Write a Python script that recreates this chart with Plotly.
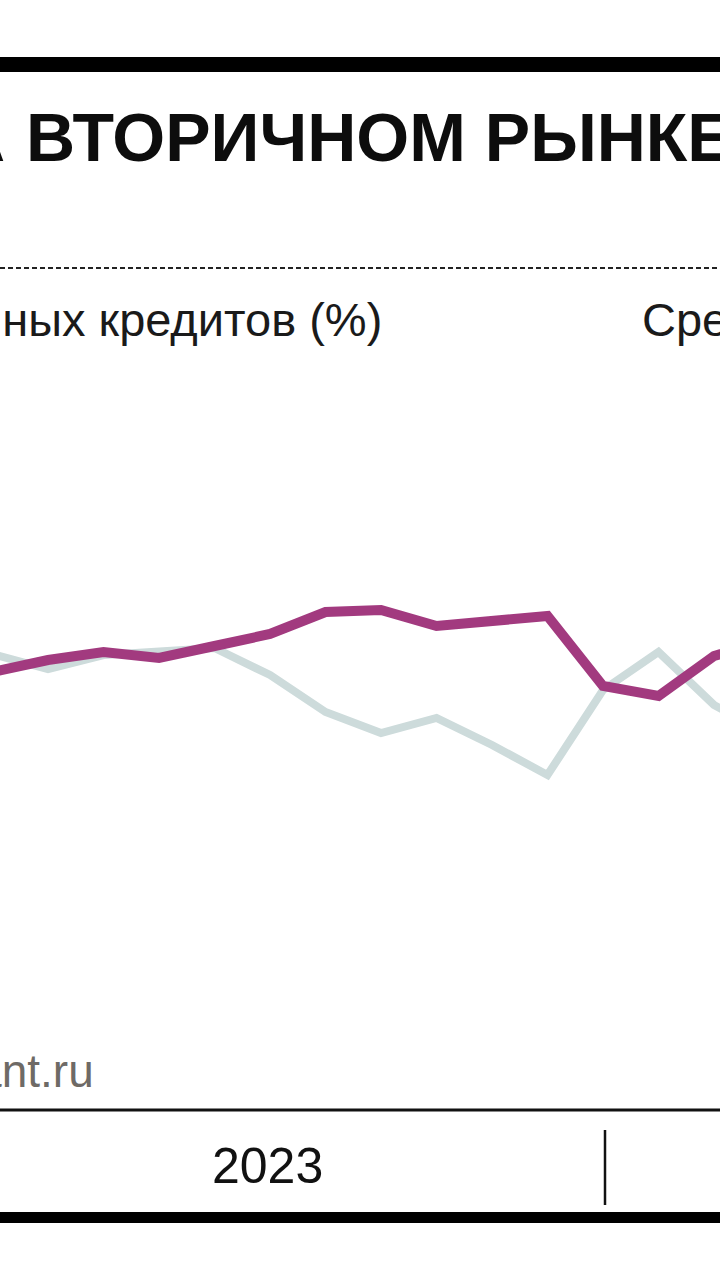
import plotly.graph_objects as go

# Month index: 0 = Jan 2023, 12 = Jan 2024
months = [1, 2, 3, 4, 5, 6, 7, 8, 9, 10, 11, 12, 13, 14, 15]
series_purple = [42.8, 44.0, 44.8, 44.2, 45.4, 46.6, 48.8, 49.0, 47.4, 47.9, 48.4, 41.4, 40.4, 44.4, 46.0]
series_grey = [44.6, 43.1, 44.5, 44.8, 45.2, 42.5, 38.8, 36.7, 38.2, 35.5, 32.5, 41.0, 44.8, 39.5, 36.5]

title_left = "НА"
title_right = "ВТОРИЧНОМ РЫНКЕ"
subtitle_left = "выданных кредитов (%)"
subtitle_right = "Средняя ставка (%)"
source_text = "kommersant.ru"
year_label = "2023"

W, H = 720, 1280
FONT = "Liberation Sans, Arial, sans-serif"

def px(x):
    return x / W

def py(y):
    return 1 - y / H

fig = go.Figure()
fig.add_trace(go.Scatter(x=months, y=series_grey, mode="lines",
                         line=dict(color="#cddbdb", width=8), hoverinfo="skip"))
fig.add_trace(go.Scatter(x=months, y=series_purple, mode="lines",
                         line=dict(color="#a23a7f", width=10), hoverinfo="skip"))

shapes = [
    dict(type="rect", xref="paper", yref="paper", x0=0, x1=1, y0=py(72), y1=py(57),
         fillcolor="#000", line=dict(width=0)),
    dict(type="line", xref="paper", yref="paper", x0=0, x1=1, y0=py(268), y1=py(268),
         line=dict(color="#222", width=2, dash="5px,3px")),
    dict(type="line", xref="paper", yref="paper", x0=0, x1=1, y0=py(1110), y1=py(1110),
         line=dict(color="#111", width=3)),
    dict(type="line", xref="paper", yref="paper", x0=px(605), x1=px(605), y0=py(1130), y1=py(1205),
         line=dict(color="#111", width=2.5)),
    dict(type="rect", xref="paper", yref="paper", x0=0, x1=1, y0=py(1223), y1=py(1212),
         fillcolor="#000", line=dict(width=0)),
]

annotations = [
    dict(text=title_left, x=px(7), y=py(137), xanchor="right", yanchor="middle",
         font=dict(family=FONT, size=68, color="#0d0d0d", weight=700), showarrow=False),
    dict(text=title_right, x=px(24), y=py(137), xanchor="left", yanchor="middle",
         font=dict(family=FONT, size=68, color="#0d0d0d", weight=700), showarrow=False),
    dict(text=subtitle_left, x=px(384), y=py(319), xanchor="right", yanchor="middle",
         font=dict(family=FONT, size=47, color="#1a1a1a"), showarrow=False),
    dict(text=subtitle_right, x=px(640), y=py(319), xanchor="left", yanchor="middle",
         font=dict(family=FONT, size=47, color="#1a1a1a"), showarrow=False),
    dict(text=source_text, x=px(96), y=py(1071), xanchor="right", yanchor="middle",
         font=dict(family=FONT, size=46, color="#6e6a66"), showarrow=False),
    dict(text=year_label, x=px(267), y=py(1166), xanchor="center", yanchor="middle",
         font=dict(family=FONT, size=50, color="#111"), showarrow=False),
]
for a in annotations:
    a.update(xref="paper", yref="paper")

fig.update_layout(
    width=W, height=H,
    margin=dict(l=0, r=0, t=0, b=0),
    paper_bgcolor="white", plot_bgcolor="white",
    showlegend=False,
    xaxis=dict(range=[1.135, 14.108], visible=False, domain=[0, 1]),
    yaxis=dict(range=[-18, 110], visible=False, domain=[0, 1]),
    shapes=shapes,
    annotations=annotations,
)

fig.write_html("out.html", config={"displayModeBar": False},
               post_script="document.body.style.margin='0';document.body.style.overflow='hidden';")
